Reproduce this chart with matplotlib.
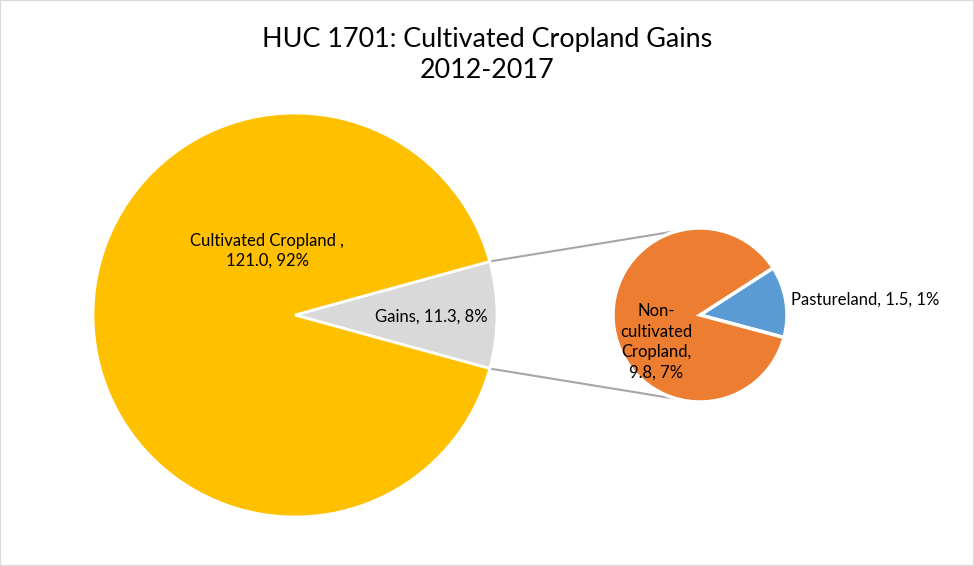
import numpy as np
import matplotlib.pyplot as plt
from matplotlib.patches import Rectangle

plt.rcParams['font.family'] = ['Lato', 'DejaVu Sans']

# Data
main_names = ['Gains', 'Cultivated Cropland']
main_values = [11.3, 121.0]
main_labels = ['Gains, 11.3, 8%', 'Cultivated Cropland ,\n121.0, 92%']
main_colors = ['#D9D9D9', '#FFC000']

sub_names = ['Pastureland', 'Non-cultivated Cropland']
sub_values = [1.5, 9.8]
sub_labels = ['Pastureland, 1.5, 1%', 'Non-\ncultivated\nCropland,\n9.8, 7%']
sub_colors = ['#5B9BD5', '#ED7D31']

title = 'HUC 1701: Cultivated Cropland Gains\n2012-2017'

# Layout (pixel-ish coordinates, y up)
W, H = 974, 566
main_c, main_r = (295, 251), 202
sub_c, sub_r = (700, 251), 87

fig = plt.figure(figsize=(W / 100, H / 100), dpi=100)
ax = fig.add_axes([0, 0, 1, 1])

# main pie, gains slice centred on the right
gain_angle = 360 * main_values[0] / sum(main_values)
ax.pie(main_values, colors=main_colors, startangle=-gain_angle / 2,
       center=main_c, radius=main_r, frame=True,
       wedgeprops=dict(edgecolor='white', linewidth=2))

# secondary pie
ax.pie(sub_values, colors=sub_colors, startangle=-15,
       center=sub_c, radius=sub_r, frame=True,
       wedgeprops=dict(edgecolor='white', linewidth=2.5))
ax.set_xlim(0, W)
ax.set_ylim(0, H)
ax.set_aspect('equal')
ax.axis('off')

# connector lines
half = np.radians(gain_angle / 2)
for sgn in (1, -1):
    x0 = main_c[0] + main_r * np.cos(half)
    y0 = main_c[1] + sgn * main_r * np.sin(half)
    th = np.radians(104.5)
    x1 = sub_c[0] + sub_r * np.cos(th)
    y1 = sub_c[1] + sgn * sub_r * np.sin(th)
    ax.plot([x0, x1], [y0, y1], color='#A6A6A6', lw=1.5, zorder=0)

# labels
fs = 12
ax.text(267, 315, main_labels[1], ha='center', va='center', fontsize=fs,
        linespacing=1.25)
ax.text(431, 249, main_labels[0], ha='center', va='center', fontsize=fs)
ax.text(656, 224, sub_labels[1], ha='center', va='center', fontsize=fs,
        linespacing=1.35)
ax.text(791, 266, sub_labels[0], ha='left', va='center', fontsize=fs)

ax.text(W / 2, 511, title, ha='center', va='center', fontsize=19.4,
        linespacing=1.3)

fig.patches.append(Rectangle((0, 0), 1, 1, transform=fig.transFigure,
                             fill=False, edgecolor='#D9D9D9', lw=1.5))

fig.savefig('out.png', dpi=100)
